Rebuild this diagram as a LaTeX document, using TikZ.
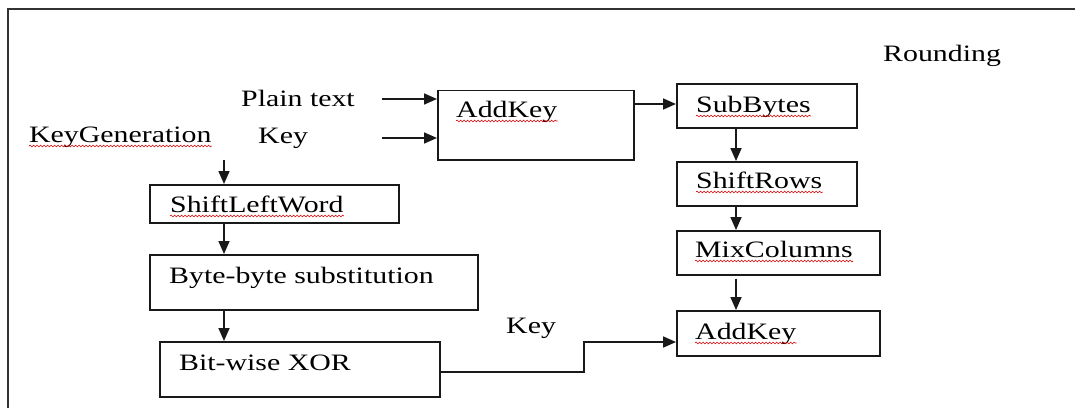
\documentclass[tikz,border=0pt]{standalone}
\usepackage{fontspec}
\usepackage{graphicx}
\setmainfont{Liberation Serif}
\usetikzlibrary{arrows.meta,decorations.pathmorphing}
\newcommand\wt[1]{\scalebox{1.27}[1]{#1}}
\tikzset{
  box/.style={draw=black!90, line width=1.7pt, minimum width=#1, inner sep=0pt, anchor=north west},
  lbl/.style={anchor=base west, inner sep=0pt, font=\fontsize{23.5}{28}\selectfont},
  arr/.style={line width=1.7pt, draw=black!90, -{Triangle[length=13pt,width=11pt]}},
  frame/.style={line width=1.9pt, draw=black!80},
  wavy/.style={draw=red!85!black, line width=0.6pt, decorate, decoration={snake, amplitude=0.9pt, segment length=3.5pt}}
}
\begin{document}
\begin{tikzpicture}[x=1pt,y=-1pt]
\useasboundingbox (0,0) rectangle (1075,408);
\draw[frame] (8.3,408) -- (8.3,9.3) -- (1075,9.3);

% boxes
\node[box=196pt, minimum height=69.5pt] (addk1) at (437,89.5) {};
\node[box=180pt, minimum height=44pt] (sub) at (676,83) {};
\node[box=180pt, minimum height=44pt] (shr) at (676,161) {};
\node[box=203pt, minimum height=44pt] (mix) at (676,230) {};
\node[box=203pt, minimum height=45pt] (addk2) at (676,310) {};
\node[box=249pt, minimum height=38pt] (slw) at (149,184) {};
\node[box=328pt, minimum height=55pt] (byte) at (149,254) {};
\node[box=280pt, minimum height=55pt] (xor) at (159,341) {};

% labels
\node[lbl] (ptext) at (241,106) {\wt{Plain text}};
\node[lbl] (key1) at (258,143) {\wt{Key}};
\node[lbl] (kg) at (29,142) {\wt{KeyGeneration}};
\node[lbl] (round) at (883,61) {\wt{Rounding}};
\node[lbl] (a1t) at (456,117) {\wt{AddKey}};
\node[lbl] (sbt) at (696,112) {\wt{SubBytes}};
\node[lbl] (srt) at (696,188) {\wt{ShiftRows}};
\node[lbl] (mct) at (695,257) {\wt{MixColumns}};
\node[lbl] (a2t) at (695,339) {\wt{AddKey}};
\node[lbl] (slt) at (170,212) {\wt{ShiftLeftWord}};
\node[lbl] (bbt) at (169,283) {\wt{Byte-byte substitution}};
\node[lbl] (xt) at (179,370) {\wt{Bit-wise XOR}};
\node[lbl] (key2) at (506,333) {\wt{Key}};

% spell-check underlines
\foreach \n in {kg,a1t,sbt,srt,mct,a2t,slt}
  \draw[wavy] ([yshift=-4pt]\n.base west) -- ([yshift=-4pt]\n.base east);

% connectors
\coordinate (pin) at (382,99);
\coordinate (kin) at (382,138);
\draw[arr] (pin) -- (pin -| addk1.west);
\draw[arr] (kin) -- (kin -| addk1.west);
\coordinate (ar1) at (0,104);
\draw[arr] (ar1 -| addk1.east) -- (ar1 -| sub.west);
\coordinate (rx) at (736,0);
\draw[arr] (rx |- sub.south) -- (rx |- shr.north);
\draw[arr] (rx |- shr.south) -- (rx |- mix.north);
\draw[arr] ([yshift=-3pt]rx |- mix.south) -- (rx |- addk2.north);
\coordinate (kgo) at (224,160);
\draw[arr] (kgo) -- (kgo |- slw.north);
\coordinate (lx) at (224,0);
\draw[arr] (lx |- slw.south) -- (lx |- byte.north);
\draw[arr] (lx |- byte.south) -- (lx |- xor.north);
\coordinate (bend) at (584,372);
\coordinate (up) at (584,342);
\draw[arr] (bend -| xor.east) -- (bend) -- (up) -- (up -| addk2.west);
\end{tikzpicture}
\end{document}
